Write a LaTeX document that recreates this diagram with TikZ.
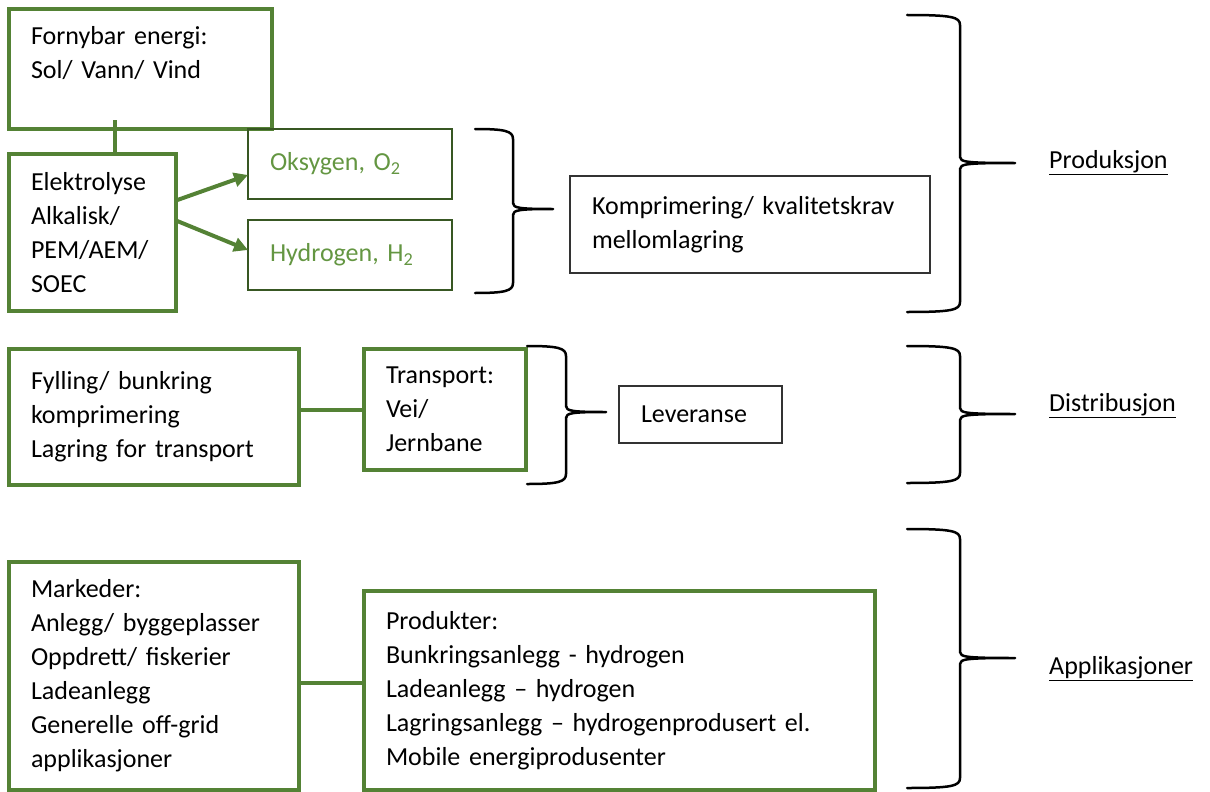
\documentclass[tikz,border=0pt]{standalone}
\usepackage{fontspec}
\setmainfont{Carlito}
\usetikzlibrary{arrows.meta,positioning}
\definecolor{boxgreen}{RGB}{84,130,53}
\definecolor{darkgreen}{RGB}{56,87,35}
\definecolor{textgreen}{RGB}{100,150,66}
\tikzset{
	gbox/.style={rectangle, draw=boxgreen, line width=3.5pt, anchor=north west, outer sep=0pt,
		align=left, inner xsep=22pt, inner ysep=0pt, font=\fontsize{26}{34}\selectfont},
	gasbox/.style={gbox, draw=darkgreen, line width=2.5pt, text=textgreen},
	plainbox/.style={gbox, draw=black!80, line width=1.2pt},
	gline/.style={draw=boxgreen, line width=4pt},
	garr/.style={gline, -{Triangle[length=14pt,width=14pt]}},
	phase/.style={anchor=base west, inner sep=0pt, font=\fontsize{26}{34}\selectfont},
	bracestyle/.style={line width=2.5pt, line join=round, line cap=round}
}
% left x, bar x, tip x, top y, tip y, bottom y
\newcommand{\wordbrace}[6]{%
	\draw[bracestyle] (#1,#4) .. controls ({#2-8},#4) and (#2,{#4+2}) .. (#2,{#4+10})
		-- (#2,{#5-6}) .. controls (#2,{#5-1}) and ({#2+6},#5) .. (#3,#5)
		.. controls ({#2+6},#5) and (#2,{#5+1}) .. (#2,{#5+6})
		-- (#2,{#6-10}) .. controls (#2,{#6-2}) and ({#2-8},#6) .. (#1,#6);}

\begin{document}
\begin{tikzpicture}[x=1pt, y=-1pt, node distance=21pt and 65pt]
	\useasboundingbox (0,0) rectangle (1210,792);
	\node[gbox, text width=219pt, minimum height=120pt] (fornybar) at (9,9) {Fornybar energi:\\Sol/ Vann/ Vind\\\mbox{}};
	\node[gbox, text width=123pt, minimum height=157pt] (elektrolyse) at (9,154) {Elektrolyse\\Alkalisk/\\PEM/AEM/\\SOEC};
	\node[gasbox, text width=160pt, minimum height=70pt] (oksygen) at (248,129) {Oksygen, O\textsubscript{2}};
	\node[gasbox, text width=160pt, minimum height=70pt, below=of oksygen] (hydrogen) {Hydrogen, H\textsubscript{2}};
	\node[plainbox, text width=316pt, minimum height=97pt] (komprimering) at (570,176) {Komprimering/ kvalitetskrav\\mellomlagring};
	\draw[gline] ([xshift=-26pt,yshift=9pt]fornybar.south) -- ([xshift=-26pt]fornybar.south |- elektrolyse.north);
	\draw[garr] ([yshift=32pt]elektrolyse.east) -- ([yshift=-11pt]oksygen.west);
	\draw[garr] ([yshift=12pt]elektrolyse.east) -- ([yshift=5pt]hydrogen.west);

	\node[gbox, text width=246pt, minimum height=136pt] (fylling) at (9,349) {Fylling/ bunkring\\komprimering\\Lagring for transport};
	\node[gbox, text width=118pt, minimum height=121pt, right=of fylling.north east, anchor=north west] (transport) {Transport:\\Vei/\\Jernbane};
	\node[plainbox, text width=119pt, minimum height=57pt] (leveranse) at (619,386) {Leveranse};
	\draw[gline] (transport.west -| fylling.east) -- (transport.west);

	\node[gbox, text width=246pt, minimum height=228pt] (markeder) at (9,562) {Markeder:\\Anlegg/ byggeplasser\\Oppdrett/ fiskerier\\Ladeanlegg\\Generelle off-grid\\applikasjoner};
	\node[gbox, text width=467pt, minimum height=199pt] (produkter) at (364,591) {Produkter:\\Bunkringsanlegg - hydrogen\\Ladeanlegg -- hydrogen\\Lagringsanlegg -- hydrogenprodusert el.\\Mobile energiprodusenter};
	\draw[gline] ([yshift=-7pt]markeder.east) -- ([yshift=-7pt]markeder.east -| produkter.west);

	\wordbrace{475}{513}{553}{129}{209}{293}
	\wordbrace{527}{566}{606}{346}{412}{484}
	\wordbrace{907}{960}{1015}{15}{163}{312}
	\wordbrace{907}{960}{1015}{346}{414}{483}
	\wordbrace{907}{960}{1015}{529}{658}{788}

	\node[phase] (produksjon) at (1049,168) {\underline{Produksjon}};
	\node[phase] (distribusjon) at (1049,411) {\underline{Distribusjon}};
	\node[phase] (applikasjoner) at (1049,674) {\underline{Applikasjoner}};
\end{tikzpicture}
\end{document}
